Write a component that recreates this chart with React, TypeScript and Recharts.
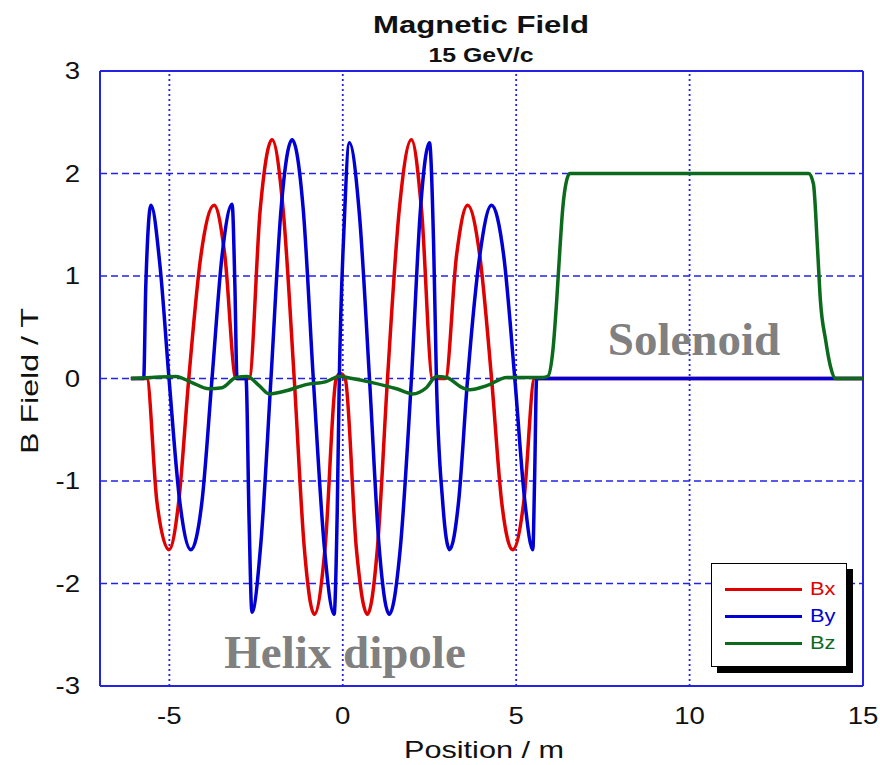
import { LineChart, Line, XAxis, YAxis, ReferenceLine, Legend } from "recharts";

const xTicks = [-5, 0, 5, 10, 15];
const yTicks = [-3, -2, -1, 0, 1, 2, 3];

// Bx (red)
const bxPos = [-6.11, -5.65, -5.36, -5.01, -4.73, -4.44, -4.09, -3.71, -3.40, -3.08, -2.70, -2.38, -2.04, -1.72, -1.40, -1.11, -0.82, -0.51, -0.19, -0.07, 0.07, 0.39, 0.71, 1.00, 1.29, 1.63, 1.98, 2.27, 2.59, 2.96, 3.28, 3.60, 3.95, 4.29, 4.58, 4.90, 5.22, 5.53, 15];
const bxVal = [0, 0, -1.2, -1.67, -1.2, 0, 1.2, 1.69, 1.2, 0, 0, 1.65, 2.33, 1.65, 0, -1.65, -2.3, -1.65, 0, 0.05, 0, -1.65, -2.3, -1.65, 0, 1.65, 2.33, 1.65, 0, 0, 1.2, 1.69, 1.2, 0, -1.2, -1.67, -1.2, 0, 0];

// By (blue)
const byPos = [-6.11, -5.74, -5.68, -5.53, -5.27, -5.01, -4.70, -4.38, -4.06, -3.77, -3.48, -3.19, -3.11, -3.05, -2.79, -2.70, -2.62, -2.36, -2.07, -1.78, -1.46, -1.14, -0.85, -0.53, -0.25, -0.16, -0.10, 0.04, 0.19, 0.48, 0.77, 1.05, 1.34, 1.66, 1.98, 2.24, 2.50, 2.62, 2.70, 2.88, 3.08, 3.34, 3.60, 3.95, 4.29, 4.64, 4.96, 5.25, 5.48, 5.53, 5.59, 15];
const byVal = [0, 0, 0.9, 1.69, 1.1, 0, -1.2, -1.67, -1.2, 0, 1.2, 1.7, 0.9, 0, 0, -1.4, -2.28, -1.6, 0, 1.65, 2.33, 1.65, 0, -1.65, -2.3, -1.3, 0, 1.5, 2.3, 1.6, 0, -1.65, -2.3, -1.65, 0, 1.65, 2.3, 1.3, 0, -1.2, -1.67, -1.2, 0, 1.2, 1.69, 1.2, 0, -1.2, -1.67, -1.0, 0, 0];

// Bz (green)
const bzPos = [-6.11, -5.51, -4.81, -4.35, -3.86, -3.48, -3.08, -2.76, -2.41, -2.12, -1.63, -1.06, -0.48, -0.10, 0.27, 0.85, 1.55, 2.01, 2.41, 2.70, 2.99, 3.45, 3.66, 4.15, 4.73, 5.77, 5.91, 6.06, 6.17, 6.26, 6.34, 6.46, 6.55, 13.43, 13.57, 13.69, 13.77, 13.92, 14.06, 14.21, 15];
const bzVal = [0, 0.01, 0.02, -0.04, -0.10, -0.09, 0.01, 0.02, -0.07, -0.15, -0.12, -0.06, -0.03, 0.02, 0, -0.04, -0.10, -0.15, -0.09, 0.02, 0.01, -0.09, -0.11, -0.07, 0.01, 0.01, 0.02, 0.28, 0.77, 1.26, 1.65, 1.94, 2.0, 2.0, 1.9, 1.26, 0.77, 0.38, 0.12, 0, 0];

const series = [
  { name: "Bx", color: "#e00000", pos: bxPos, val: bxVal },
  { name: "By", color: "#0000d4", pos: byPos, val: byVal },
  { name: "Bz", color: "#0b6a1c", pos: bzPos, val: bzVal },
];

const toPoints = (pos: number[], val: number[]) => pos.map((x, i) => ({ x, b: val[i] }));

const gridBlue = "#2323e8";
const sans = "'Liberation Sans', Arial, sans-serif";
const serif = "'Liberation Serif', 'Times New Roman', serif";

// the original text is a little wide, so ticks are stretched sideways
const XTick = (props: any) => {
  const { x, y, payload } = props;
  return (
    <g transform={`translate(${x},${y})`}>
      <text transform="scale(1.2,1)" textAnchor="middle" dy="0.71em" fontFamily={sans} fontSize={23} fill="#111">
        {payload.value}
      </text>
    </g>
  );
};

const YTick = (props: any) => {
  const { x, y, payload } = props;
  return (
    <g transform={`translate(${x},${y})`}>
      <text transform="scale(1.2,1)" textAnchor="end" dy="0.355em" fontFamily={sans} fontSize={23} fill="#111">
        {payload.value}
      </text>
    </g>
  );
};

function LegendBox() {
  return (
    <div
      style={{
        width: 134,
        height: 102,
        border: "1px solid #000",
        background: "#fff",
        boxShadow: "6px 6px 0 #000",
        position: "relative",
        fontFamily: sans,
        fontSize: 19,
      }}
    >
      {series.map((s, i) => (
        <div key={s.name} style={{ position: "absolute", left: 13, top: 14 + i * 27, height: 22, display: "flex", alignItems: "center" }}>
          <div style={{ width: 77, height: 3, background: s.color }} />
          <span style={{ marginLeft: 8, color: s.color, display: "inline-block", transform: "scaleX(1.15)", transformOrigin: "left center" }}>
            {s.name}
          </span>
        </div>
      ))}
    </div>
  );
}

export default function App() {
  return (
    <div style={{ position: "absolute", left: 0, top: 0, width: 880, height: 765, background: "#fff" }}>
      <LineChart width={880} height={765} margin={{ top: 71, right: 17, bottom: 0, left: 0 }}>
        {xTicks.filter((t) => t < 15).map((t) => (
          <ReferenceLine key={"vx" + t} x={t} stroke={gridBlue} strokeWidth={1.8} strokeDasharray="2 3" />
        ))}
        {yTicks.filter((t) => t > -3 && t < 3).map((t) => (
          <ReferenceLine key={"hy" + t} y={t} stroke={gridBlue} strokeWidth={1.6} strokeDasharray="7 4" />
        ))}
        <ReferenceLine x={15} stroke={gridBlue} strokeWidth={2} />
        <ReferenceLine y={3} stroke={gridBlue} strokeWidth={2} />
        <XAxis
          type="number"
          dataKey="x"
          domain={[-7, 15]}
          ticks={xTicks}
          allowDataOverflow
          height={79}
          tickLine={false}
          tickSize={0}
          tickMargin={22}
          axisLine={{ stroke: gridBlue, strokeWidth: 2 }}
          tick={<XTick />}
        />
        <YAxis
          type="number"
          domain={[-3, 3]}
          ticks={yTicks}
          width={100}
          tickLine={false}
          tickSize={0}
          tickMargin={20}
          axisLine={{ stroke: gridBlue, strokeWidth: 2 }}
          tick={<YTick />}
        />
        {series.map((s) => (
          <Line
            key={s.name}
            name={s.name}
            data={toPoints(s.pos, s.val)}
            dataKey="b"
            type="monotone"
            stroke={s.color}
            strokeWidth={3.5}
            dot={false}
            isAnimationActive={false}
          />
        ))}
        <Legend
          layout="vertical"
          align="center"
          verticalAlign="middle"
          wrapperStyle={{ left: 711, top: 563, width: 136, height: 104 }}
          content={() => <LegendBox />}
        />
      </LineChart>
      <svg width={880} height={765} style={{ position: "absolute", left: 0, top: 0, pointerEvents: "none" }}>
        <text x={481} y={33} textAnchor="middle" fontFamily={sans} fontWeight="bold" fontSize={24} fill="#111" textLength={216} lengthAdjust="spacingAndGlyphs">
          Magnetic Field
        </text>
        <text x={481} y={62} textAnchor="middle" fontFamily={sans} fontWeight="bold" fontSize={20} fill="#111" textLength={105} lengthAdjust="spacingAndGlyphs">
          15 GeV/c
        </text>
        <text x={484} y={758} textAnchor="middle" fontFamily={sans} fontSize={24} fill="#111" textLength={160} lengthAdjust="spacingAndGlyphs">
          Position / m
        </text>
        <text x={38} y={381} transform="rotate(-90, 38, 381)" textAnchor="middle" fontFamily={sans} fontSize={24} fill="#111" textLength={146} lengthAdjust="spacingAndGlyphs">
          B Field / T
        </text>
        <text x={694} y={355} textAnchor="middle" fontFamily={serif} fontWeight="bold" fontSize={47} fill="#808080">
          Solenoid
        </text>
        <text x={345} y={668} textAnchor="middle" fontFamily={serif} fontWeight="bold" fontSize={47} fill="#808080">
          Helix dipole
        </text>
      </svg>
    </div>
  );
}
